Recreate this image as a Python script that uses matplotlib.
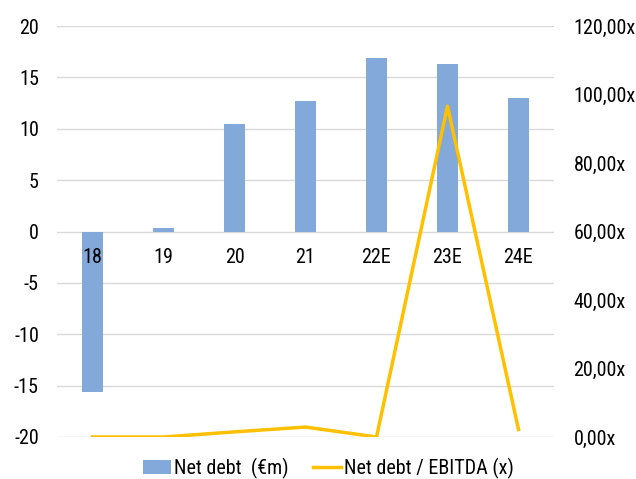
import matplotlib.pyplot as plt
import numpy as np

plt.rcParams['font.family'] = ['Roboto Condensed', 'Roboto', 'DejaVu Sans']
plt.rcParams['axes.unicode_minus'] = False

# data
years = ['18', '19', '20', '21', '22E', '23E', '24E']
net_debt = [-15.6, 0.3, 10.5, 12.7, 16.9, 16.3, 13.0]
leverage = [0.0, 0.0, 1.5, 2.9, 0.0, 96.6, 2.2]

bar_color = '#82A9DA'
line_color = '#FFC000'
fs = 14.5

fig = plt.figure(figsize=(6.36, 4.79), dpi=100)
ax = fig.add_axes([57 / 636, 1 - 437 / 479, 497 / 636, 411 / 479])
ax2 = ax.twinx()

x = np.arange(len(years))
ax.bar(x, net_debt, width=0.3, color=bar_color, label='Net debt  (€m)', zorder=2)
ax2.plot(x, leverage, color=line_color, lw=2.5, label='Net debt / EBITDA (x)', zorder=3)

ax.set_xlim(-0.5, len(years) - 0.5)
ax.set_ylim(-20, 20)
ax.set_yticks(np.arange(-20, 21, 5))
ax2.set_ylim(0, 120)
ax2.set_yticks(np.arange(0, 121, 20))
ax2.set_yticklabels([f'{v:.2f}'.replace('.', ',') + 'x' for v in np.arange(0, 121, 20)])

ax.grid(axis='y', color='#D9D9D9', lw=1)
ax.set_axisbelow(True)
for a in (ax, ax2):
    for s in a.spines.values():
        s.set_visible(False)
    a.tick_params(length=0, labelsize=fs, colors='black')

# category labels sit just under the zero line, on top of the bars
ax.set_xticks(x)
ax.set_xticklabels([])
for i, lab in enumerate(years):
    ax.annotate(lab, (i, 0), xytext=(0, -19), textcoords='offset points',
                ha='center', va='center', fontsize=fs, zorder=5)
ax.tick_params(axis='y', pad=13)
ax2.tick_params(axis='y', pad=14)

h1, l1 = ax.get_legend_handles_labels()
h2, l2 = ax2.get_legend_handles_labels()
fig.legend(h1 + h2, l1 + l2, loc='center', bbox_to_anchor=(0.516, 1 - 468 / 479),
           ncol=2, frameon=False, fontsize=fs, handlelength=1.4, handletextpad=0.15,
           columnspacing=1.2, borderpad=0.1)

fig.savefig('out.png', dpi=100)
